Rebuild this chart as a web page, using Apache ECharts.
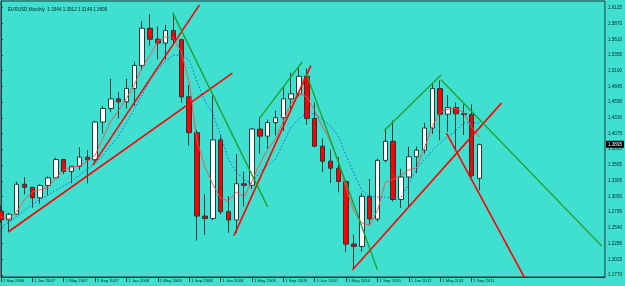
<!DOCTYPE html>
<html>
<head>
<meta charset="utf-8">
<script src="https://cdn.jsdelivr.net/npm/echarts@6/dist/echarts.min.js"></script>
<style>
html, body { margin: 0; padding: 0; background: #40E0D0; }
#chart { width: 625px; height: 286px; }
</style>
</head>
<body>
<div id="chart"></div>
<script>
var symbol = 'EURUSD,Monthly'

var months = [
  '1 Sep 2006', '1 Oct 2006', '1 Nov 2006', '1 Dec 2006',
  '1 Jan 2007', '1 Feb 2007', '1 Mar 2007', '1 Apr 2007', '1 May 2007', '1 Jun 2007',
  '1 Jul 2007', '1 Aug 2007', '1 Sep 2007', '1 Oct 2007', '1 Nov 2007', '1 Dec 2007',
  '1 Jan 2008', '1 Feb 2008', '1 Mar 2008', '1 Apr 2008', '1 May 2008', '1 Jun 2008',
  '1 Jul 2008', '1 Aug 2008', '1 Sep 2008', '1 Oct 2008', '1 Nov 2008', '1 Dec 2008',
  '1 Jan 2009', '1 Feb 2009', '1 Mar 2009', '1 Apr 2009', '1 May 2009', '1 Jun 2009',
  '1 Jul 2009', '1 Aug 2009', '1 Sep 2009', '1 Oct 2009', '1 Nov 2009', '1 Dec 2009',
  '1 Jan 2010', '1 Feb 2010', '1 Mar 2010', '1 Apr 2010', '1 May 2010', '1 Jun 2010',
  '1 Jul 2010', '1 Aug 2010', '1 Sep 2010', '1 Oct 2010', '1 Nov 2010', '1 Dec 2010',
  '1 Jan 2011', '1 Feb 2011', '1 Mar 2011', '1 Apr 2011', '1 May 2011', '1 Jun 2011',
  '1 Jul 2011', '1 Aug 2011', '1 Sep 2011', '1 Oct 2011'
]

var opens = [
  1.2810, 1.2669, 1.2760, 1.3248,
  1.3199, 1.3027, 1.3228, 1.3352, 1.3650, 1.3456, 1.3541, 1.3690, 1.3647, 1.4262, 1.4483, 1.4638,
  1.4592, 1.4810, 1.5184, 1.5790, 1.5611, 1.5549, 1.5752, 1.5603, 1.4672, 1.4089, 1.2730, 1.2691,
  1.3971, 1.2801, 1.2666, 1.3256, 1.3232, 1.4147, 1.4032, 1.4253, 1.4332, 1.4640, 1.4722, 1.5007,
  1.4320, 1.3868, 1.3625, 1.3510, 1.3293, 1.2273, 1.2235, 1.3052, 1.2682, 1.3637, 1.3948, 1.3000,
  1.3366, 1.3696, 1.3804, 1.4164, 1.4807, 1.4390, 1.4497, 1.4397, 1.4384, 1.3344
]
var highs = [
  1.2900, 1.2785, 1.3290, 1.3365,
  1.3203, 1.3246, 1.3374, 1.3682, 1.3665, 1.3543, 1.3852, 1.3808, 1.4281, 1.4527, 1.4967, 1.4746,
  1.4967, 1.5244, 1.5905, 1.6019, 1.5818, 1.5843, 1.6038, 1.5614, 1.4866, 1.4132, 1.3083, 1.4720,
  1.4058, 1.3057, 1.3738, 1.3455, 1.4165, 1.4338, 1.4303, 1.4445, 1.4844, 1.5063, 1.5143, 1.5137,
  1.4580, 1.3995, 1.3815, 1.3693, 1.3318, 1.2429, 1.3105, 1.3334, 1.3666, 1.4158, 1.4284, 1.3500,
  1.3862, 1.3862, 1.4248, 1.4882, 1.4940, 1.4700, 1.4580, 1.4550, 1.4548, 1.3912
]
var lows = [
  1.2616, 1.2483, 1.2747, 1.3082,
  1.2866, 1.2932, 1.3073, 1.3340, 1.3413, 1.3265, 1.3478, 1.3262, 1.3586, 1.4072, 1.4423, 1.4318,
  1.4483, 1.4528, 1.5103, 1.5508, 1.5284, 1.5285, 1.5525, 1.4578, 1.3881, 1.2330, 1.2424, 1.2660,
  1.2761, 1.2456, 1.2457, 1.2887, 1.3170, 1.3747, 1.3829, 1.4046, 1.4121, 1.4482, 1.4677, 1.4218,
  1.3851, 1.3444, 1.3267, 1.3115, 1.2142, 1.1876, 1.2149, 1.2589, 1.2644, 1.3604, 1.2967, 1.2860,
  1.2872, 1.3428, 1.3748, 1.4069, 1.3968, 1.4102, 1.3837, 1.4050, 1.3362, 1.3149
]
var closes = [
  1.2669, 1.2760, 1.3248, 1.3199,
  1.3027, 1.3228, 1.3352, 1.3650, 1.3456, 1.3541, 1.3690, 1.3647, 1.4262, 1.4483, 1.4638, 1.4592,
  1.4810, 1.5184, 1.5790, 1.5611, 1.5549, 1.5752, 1.5603, 1.4672, 1.4089, 1.2730, 1.2691, 1.3971,
  1.2801, 1.2666, 1.3256, 1.3232, 1.4147, 1.4032, 1.4253, 1.4332, 1.4640, 1.4722, 1.5007, 1.4320,
  1.3868, 1.3625, 1.3510, 1.3293, 1.2273, 1.2235, 1.3052, 1.2682, 1.3637, 1.3948, 1.3000, 1.3366,
  1.3696, 1.3804, 1.4164, 1.4807, 1.4390, 1.4497, 1.4397, 1.4384, 1.3388, 1.3895
]

// fast MA (thin red)
var maFast = [
  1.272, 1.268, 1.280, 1.300,
  1.312, 1.316, 1.320, 1.335, 1.348, 1.352, 1.355, 1.362, 1.372, 1.400, 1.428, 1.445,
  1.465, 1.487, 1.515, 1.535, 1.558, 1.565, 1.563, 1.540, 1.490, 1.395, 1.353, 1.325,
  1.302, 1.298, 1.312, 1.304, 1.330, 1.358, 1.382, 1.398, 1.428, 1.457, 1.473, 1.467,
  1.445, 1.418, 1.395, 1.362, 1.318, 1.280, 1.262, 1.258, 1.282, 1.328, 1.333, 1.340,
  1.348, 1.352, 1.384, 1.420, 1.442, 1.447, 1.449, 1.441, 1.418, 1.401
]
// slow MA (blue dotted)
var maSlow = [
  1.255, 1.263, 1.272, 1.283,
  1.292, 1.300, 1.307, 1.315, 1.322, 1.330, 1.340, 1.350, 1.358, 1.372, 1.388, 1.403,
  1.425, 1.447, 1.470, 1.495, 1.512, 1.526, 1.535, 1.535, 1.527, 1.492, 1.460, 1.440,
  1.405, 1.365, 1.345, 1.332, 1.326, 1.345, 1.356, 1.365, 1.392, 1.418, 1.432, 1.441,
  1.439, 1.430, 1.420, 1.403, 1.372, 1.342, 1.315, 1.305, 1.304, 1.304, 1.302, 1.303,
  1.326, 1.350, 1.365, 1.380, 1.392, 1.403, 1.412, 1.425, 1.425, 1.425
]

// trend lines as [barIndex, price] pairs
var redLines = [
  [[0.9, 1.247], [29.5, 1.506]],
  [[11.7, 1.356], [25.3, 1.617]],
  [[29.7, 1.241], [39.5, 1.518]],
  [[44.8, 1.185], [63.8, 1.457]],
  [[56.8, 1.408], [66.9, 1.169]]
]
var greenLines = [
  [[21.9, 1.604], [34.0, 1.288]],
  [[33.0, 1.433], [38.4, 1.524]],
  [[38.9, 1.506], [48.0, 1.185]],
  [[48.9, 1.413], [56.1, 1.503]],
  [[56.1, 1.495], [76.6, 1.224]]
]

var priceTicks = [1.1770, 1.2025, 1.2285, 1.2540, 1.2795, 1.3050, 1.3305, 1.3565, 1.3820,
  1.4075, 1.4330, 1.4590, 1.4845, 1.5100, 1.5355, 1.5610, 1.5870, 1.6125]

var emptySlots = 16
var axisFont = 'Liberation Sans'
var dark = '#1d3b3b'

var last = opens.length - 1
var header = symbol + '  ' + opens[last].toFixed(4) + ' ' + highs[last].toFixed(4) + ' ' +
  lows[last].toFixed(4) + ' ' + closes[last].toFixed(4)

var slots = months.slice()
for (var k = 0; k < emptySlots; k++) slots.push('')

var candles = opens.map(function (o, i) {
  return [o, closes[i], lows[i], highs[i]]
})

function showTick(index) {
  return index % 4 === 0 && index <= last
}

var series = [
  {
    type: 'candlestick',
    data: candles,
    barWidth: 5,
    itemStyle: {
      color: '#ffffff',
      color0: '#ff0000',
      borderColor: dark,
      borderColor0: dark,
      borderWidth: 1
    },
    markLine: {
      symbol: 'none',
      silent: true,
      data: [{ yAxis: closes[last] }],
      lineStyle: { color: 'rgba(0,0,0,0)', width: 0 },
      label: {
        show: true,
        position: 'end',
        distance: 1,
        formatter: closes[last].toFixed(4),
        backgroundColor: '#000',
        color: '#fff',
        opacity: 1,
        fontSize: 4.6,
        fontFamily: axisFont,
        padding: [1, 2]
      }
    }
  },
  {
    type: 'line',
    data: maFast,
    symbol: 'none',
    lineStyle: { color: '#ff4a4a', width: 0.9 }
  },
  {
    type: 'line',
    data: maSlow,
    symbol: 'none',
    lineStyle: { color: '#1560e0', width: 1, type: [1.5, 2] }
  }
]

redLines.forEach(function (seg) {
  series.push({
    type: 'line', xAxisIndex: 1, data: seg, symbol: 'none',
    lineStyle: { color: '#ff0000', width: 1.6 }
  })
})
greenLines.forEach(function (seg) {
  series.push({
    type: 'line', xAxisIndex: 1, data: seg, symbol: 'none',
    lineStyle: { color: '#20a030', width: 1.4 }
  })
})

var myChart = echarts.init(document.getElementById('chart'))
myChart.setOption({
  animation: false,
  backgroundColor: '#40E0D0',
  title: {
    text: header,
    left: 3,
    top: 2,
    textStyle: { fontSize: 4.6, fontWeight: 'normal', color: '#0c2424', fontFamily: axisFont }
  },
  grid: {
    left: 1,
    right: 19,
    top: 1,
    bottom: 9,
    show: true,
    borderColor: dark,
    borderWidth: 1
  },
  xAxis: [
    {
      type: 'category',
      data: slots,
      boundaryGap: false,
      axisLine: { lineStyle: { color: dark } },
      axisTick: { interval: showTick, length: 5, lineStyle: { color: dark } },
      axisLabel: {
        interval: showTick,
        align: 'left',
        margin: 2,
        fontSize: 4.2,
        fontFamily: axisFont,
        color: '#0c2424',
        padding: [0, 0, 0, 2]
      },
      splitLine: { show: false }
    },
    {
      type: 'value',
      min: 0,
      max: slots.length - 1,
      show: false
    }
  ],
  yAxis: {
    type: 'value',
    position: 'right',
    min: 1.1737,
    max: 1.6234,
    axisLine: { show: true, lineStyle: { color: dark } },
    axisTick: { show: true, length: 2, customValues: priceTicks, lineStyle: { color: dark } },
    axisLabel: {
      customValues: priceTicks,
      formatter: function (v) { return v.toFixed(4) },
      fontSize: 4.6,
      margin: 3,
      fontFamily: axisFont,
      color: '#0c2424'
    },
    splitLine: { show: false }
  },
  series: series
})
</script>
</body>
</html>
